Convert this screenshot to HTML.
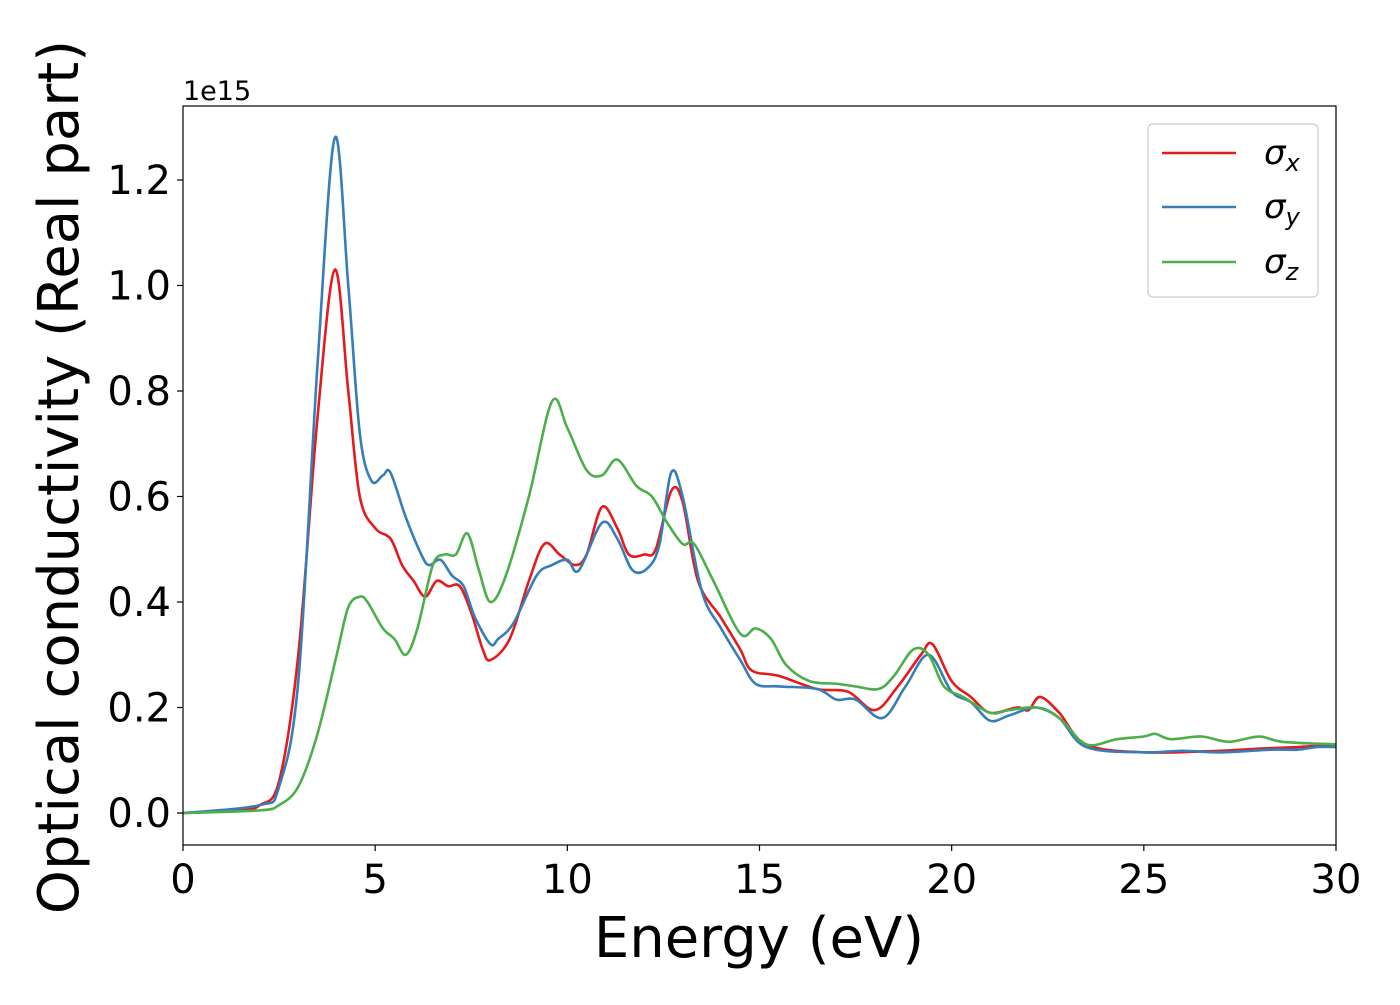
<!DOCTYPE html>
<html><head><meta charset="utf-8"><style>
body{margin:0;background:#fff}
svg text{font-family:"DejaVu Sans","Liberation Sans",sans-serif}
</style></head><body>
<svg id="chart" width="1400" height="1000" xmlns="http://www.w3.org/2000/svg">
<g id="plot"></g>
</svg>
<script>
const xTicks=[0,5,10,15,20,25,30];
const yTicks=[0.0,0.2,0.4,0.6,0.8,1.0,1.2];
const yTickLabels=["0.0","0.2","0.4","0.6","0.8","1.0","1.2"];
const sigmaXE=[0,1.5,2,2.5,3,3.5,3.95,4.3,4.6,5,5.4,5.7,6,6.3,6.6,6.9,7.2,7.5,7.8,8,8.5,9,9.4,9.8,10.2,10.5,10.9,11.3,11.6,12,12.3,12.7,13,13.4,14,14.5,14.8,15.5,16.5,17.3,18,18.6,19.2,19.5,20,20.5,21,21.7,22,22.3,22.8,23.5,25,27,28,29,30];
const sigmaXV=[0,0.005,0.015,0.06,0.3,0.75,1.03,0.8,0.6,0.54,0.52,0.47,0.44,0.41,0.44,0.43,0.43,0.38,0.31,0.29,0.33,0.44,0.51,0.49,0.47,0.49,0.58,0.54,0.49,0.49,0.5,0.61,0.59,0.44,0.37,0.31,0.27,0.26,0.235,0.23,0.195,0.24,0.3,0.32,0.25,0.22,0.19,0.2,0.195,0.22,0.19,0.13,0.115,0.118,0.122,0.125,0.13];
const sigmaYE=[0,2,2.5,3,3.5,3.95,4.3,4.6,4.9,5.2,5.4,5.8,6.2,6.4,6.7,7,7.3,7.6,8,8.2,8.6,9.2,9.6,10,10.3,10.9,11.3,11.7,12.1,12.4,12.7,13,13.5,14,14.5,14.9,15.5,16.5,17,17.5,18.2,18.8,19.4,20,20.5,21,21.5,22.2,22.8,23.5,25,26,27,28.3,29,29.5,30];
const sigmaYV=[0,0.015,0.05,0.25,0.85,1.28,1.0,0.72,0.63,0.64,0.645,0.56,0.49,0.47,0.48,0.45,0.43,0.37,0.32,0.33,0.36,0.45,0.47,0.48,0.46,0.55,0.52,0.46,0.465,0.51,0.645,0.6,0.42,0.35,0.29,0.245,0.24,0.235,0.215,0.215,0.18,0.24,0.3,0.23,0.21,0.175,0.185,0.2,0.18,0.125,0.115,0.118,0.115,0.12,0.12,0.125,0.125];
const sigmaZE=[0,2,2.5,3,3.5,4,4.3,4.6,4.8,5.2,5.5,5.8,6.1,6.5,6.8,7.1,7.4,7.7,8,8.4,9,9.6,10,10.5,10.9,11.3,11.8,12.2,12.6,13,13.3,13.8,14.5,14.9,15.3,15.7,16.3,17,17.5,18.1,18.5,19,19.4,19.8,20.3,21,21.5,22.2,22.8,23.5,24.3,25,25.3,25.7,26.5,27.2,28,28.6,30];
const sigmaZV=[0,0.005,0.015,0.05,0.15,0.3,0.39,0.41,0.4,0.35,0.33,0.3,0.35,0.47,0.49,0.49,0.53,0.46,0.4,0.45,0.6,0.78,0.73,0.65,0.64,0.67,0.62,0.6,0.55,0.51,0.51,0.44,0.34,0.35,0.33,0.28,0.25,0.245,0.24,0.235,0.26,0.31,0.3,0.24,0.22,0.19,0.195,0.2,0.18,0.13,0.14,0.145,0.15,0.14,0.145,0.135,0.145,0.135,0.13];
const X0=183,X1=1336,Y0=845,Y1=106;
const xs=v=>X0+(v/30)*(X1-X0);
const ys=v=>813-v*527.5;
const NS="http://www.w3.org/2000/svg";
const g=document.getElementById('plot');
function mk(tag,attrs){const e=document.createElementNS(NS,tag);for(const k in attrs)e.setAttribute(k,attrs[k]);g.appendChild(e);return e;}
function path(E,V){
  const P=E.map((e,i)=>[xs(e),ys(V[i])]);
  let d=`M${P[0][0]},${P[0][1]}`;
  for(let i=0;i<P.length-1;i++){
    const p0=P[Math.max(i-1,0)],p1=P[i],p2=P[i+1],p3=P[Math.min(i+2,P.length-1)];
    const c1=[p1[0]+(p2[0]-p0[0])/6,p1[1]+(p2[1]-p0[1])/6];
    const c2=[p2[0]-(p3[0]-p1[0])/6,p2[1]-(p3[1]-p1[1])/6];
    d+=` C${c1[0]},${c1[1]} ${c2[0]},${c2[1]} ${p2[0]},${p2[1]}`;
  }
  return d;
}
const cp=mk('clipPath',{id:'clip'});
const cr=document.createElementNS(NS,'rect');cr.setAttribute('x',X0);cr.setAttribute('y',Y1);cr.setAttribute('width',X1-X0);cr.setAttribute('height',Y0-Y1);cp.appendChild(cr);
const series=[[sigmaXE,sigmaXV,'#e41a1c','sigma-x-line'],[sigmaYE,sigmaYV,'#377eb8','sigma-y-line'],[sigmaZE,sigmaZV,'#4daf4a','sigma-z-line']];
series.forEach(s=>{
  const p=mk('path',{d:path(s[0],s[1]),fill:'none',stroke:s[2],'stroke-width':2.6,'clip-path':'url(#clip)'});
  
  
});
const frame=mk('rect',{x:X0,y:Y1,width:X1-X0,height:Y0-Y1,fill:'none',stroke:'#000','stroke-width':1.2});


xTicks.forEach(t=>{
  mk('line',{x1:xs(t),x2:xs(t),y1:Y0,y2:Y0+6,stroke:'#000','stroke-width':1.2});
  const tx=mk('text',{x:xs(t),y:Y0+48,'font-size':40,'text-anchor':'middle'});tx.textContent=t;
  
  
});
yTicks.forEach((t,i)=>{
  mk('line',{x1:X0-6,x2:X0,y1:ys(t),y2:ys(t),stroke:'#000','stroke-width':1.2});
  const tx=mk('text',{x:X0-12,y:ys(t)+14,'font-size':40,'text-anchor':'end'});tx.textContent=yTickLabels[i];
  
  
});
</script>
<svg style="position:absolute;left:0;top:0" width="1400" height="1000" xmlns="http://www.w3.org/2000/svg">
<text x="183" y="100" font-size="27" font-family="DejaVu Sans,Liberation Sans,sans-serif">1e15</text>
<text x="759" y="957" font-size="56" text-anchor="middle" font-family="DejaVu Sans,Liberation Sans,sans-serif">Energy (eV)</text>
<text transform="translate(78,477) rotate(-90)" font-size="56" text-anchor="middle" font-family="DejaVu Sans,Liberation Sans,sans-serif">Optical conductivity (Real part)</text>
<g>
<rect x="1148" y="124" width="170" height="173" rx="5" fill="#fff" stroke="#ccc" stroke-width="1.2"/>
<line x1="1162" y1="153" x2="1236" y2="153" stroke="#e41a1c" stroke-width="2.6"/>
<line x1="1162" y1="207" x2="1236" y2="207" stroke="#377eb8" stroke-width="2.6"/>
<line x1="1162" y1="262" x2="1236" y2="262" stroke="#4daf4a" stroke-width="2.6"/>
<text x="1264" y="164" font-size="34" font-style="italic" font-family="DejaVu Sans,sans-serif">σ<tspan font-size="24" dy="7">x</tspan></text>
<text x="1264" y="218" font-size="34" font-style="italic" font-family="DejaVu Sans,sans-serif">σ<tspan font-size="24" dy="7">y</tspan></text>
<text x="1264" y="273" font-size="34" font-style="italic" font-family="DejaVu Sans,sans-serif">σ<tspan font-size="24" dy="7">z</tspan></text>
</g>
</svg>
</body></html>
